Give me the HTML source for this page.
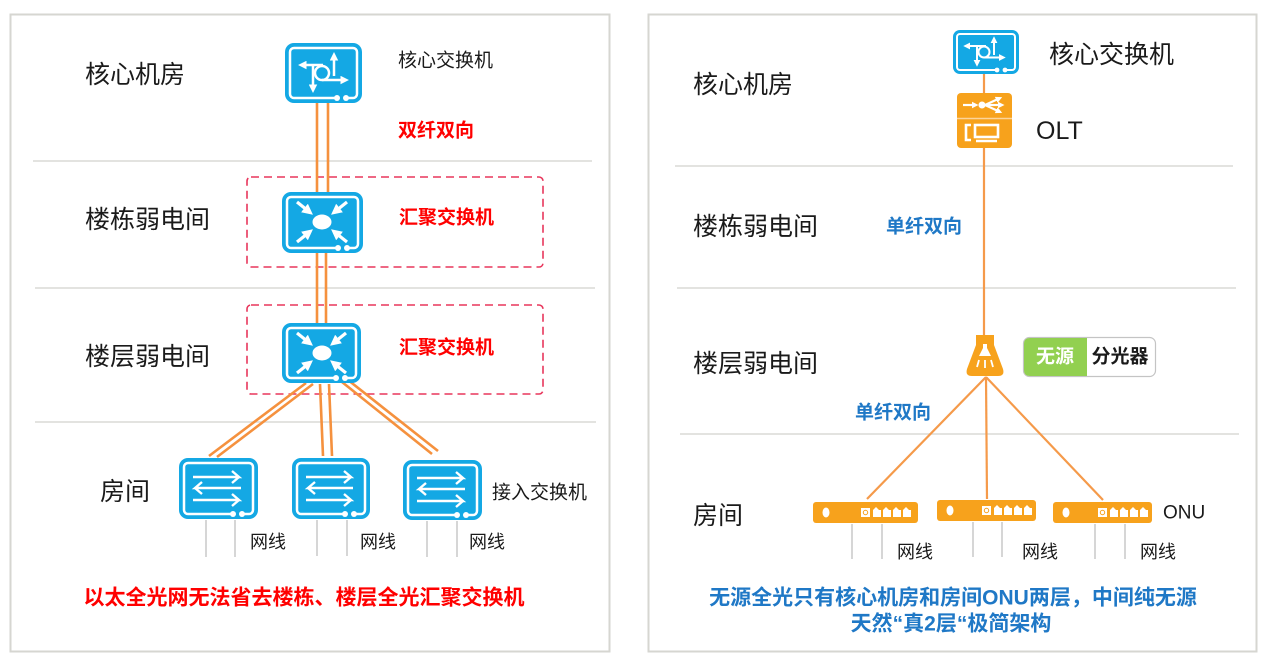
<!DOCTYPE html>
<html><head><meta charset="utf-8"><style>
html,body{margin:0;padding:0;background:#fff;width:1264px;height:659px;overflow:hidden}
svg{display:block}
text{font-family:"Liberation Sans","Noto Sans CJK SC",sans-serif;dominant-baseline:central}
.lbl{font-size:25px;fill:#1a1a1a}
.sm{font-size:19px;fill:#1a1a1a}
.red{font-size:19px;fill:#ff0000;font-weight:bold}
.blue{font-size:19px;fill:#1f78c6;font-weight:bold}
</style></head><body>
<svg width="1264" height="659" viewBox="0 0 1264 659" xmlns="http://www.w3.org/2000/svg">
<defs>
<marker id="wa" viewBox="0 0 10 10" refX="3" refY="5" markerWidth="3.4" markerHeight="3.4" orient="auto"><path d="M0,0 L10,5 L0,10 z" fill="#fff"/></marker>
<marker id="wb" viewBox="0 0 10 10" refX="3" refY="5" markerWidth="3" markerHeight="3" orient="auto"><path d="M0,0 L10,5 L0,10 z" fill="#fff"/></marker>
</defs>

<!-- panels -->
<rect x="10.5" y="14.5" width="599" height="637" fill="none" stroke="#d6d6d1" stroke-width="2"/>
<rect x="648.5" y="14.5" width="608" height="637" fill="none" stroke="#d6d6d1" stroke-width="2"/>

<!-- dividers -->
<g stroke="#dadad5" stroke-width="1.5">
<line x1="33" y1="161" x2="592" y2="161"/>
<line x1="35" y1="288" x2="595" y2="288"/>
<line x1="35" y1="422" x2="596" y2="422"/>
<line x1="675" y1="166" x2="1233" y2="166"/>
<line x1="677" y1="288" x2="1236" y2="288"/>
<line x1="680" y1="434" x2="1239" y2="434"/>
</g>

<!-- left labels -->
<text class="lbl" x="85" y="75">核心机房</text>
<text class="lbl" x="85" y="220">楼栋弱电间</text>
<text class="lbl" x="85" y="357">楼层弱电间</text>
<text class="lbl" x="100" y="492">房间</text>

<!-- dashed boxes -->
<rect x="247" y="177" width="296" height="90" rx="4" fill="none" stroke="#e8365c" stroke-width="1.6" stroke-dasharray="8,5"/>
<rect x="247" y="305" width="296" height="89" rx="4" fill="none" stroke="#e8365c" stroke-width="1.6" stroke-dasharray="8,5"/>

<!-- orange fibers left -->
<g stroke="#f5913e" stroke-width="2.6" fill="none">
<line x1="317" y1="103" x2="317" y2="192"/>
<line x1="328" y1="103" x2="328" y2="192"/>
<line x1="317" y1="253" x2="317" y2="323"/>
<line x1="326" y1="253" x2="326" y2="323"/>
<line x1="306" y1="383" x2="209" y2="456"/>
<line x1="313" y1="384" x2="217" y2="457"/>
<line x1="320" y1="384" x2="323" y2="456"/>
<line x1="329" y1="384" x2="332" y2="456"/>
<line x1="342" y1="382" x2="432" y2="454"/>
<line x1="348" y1="380" x2="438" y2="451"/>
</g>

<!-- core switch left -->
<g transform="translate(285,43)">
<rect width="77" height="60" rx="9" fill="#14a8e4"/>
<rect x="5" y="5" width="67" height="50" rx="4" fill="none" stroke="#fff" stroke-width="2.5"/>
<rect x="53" y="52" width="7" height="6" fill="#14a8e4"/>
<circle cx="52" cy="55" r="3" fill="#fff"/><circle cx="61" cy="55" r="3" fill="#fff"/>
<g stroke="#fff" stroke-width="2.5" fill="none">
<line x1="38" y1="22" x2="19" y2="22" marker-end="url(#wa)"/>
<line x1="28" y1="22" x2="28" y2="44" marker-end="url(#wa)"/>
<circle cx="37" cy="30" r="7"/>
<line x1="37" y1="37" x2="58" y2="37" marker-end="url(#wa)"/>
<line x1="49" y1="33" x2="49" y2="15" marker-end="url(#wa)"/>
</g>
</g>
<text class="sm" x="398" y="61">核心交换机</text>
<text class="red" x="398" y="131">双纤双向</text>

<!-- agg switches -->
<g transform="translate(282,192)">
<rect width="81" height="61" rx="9" fill="#14a8e4"/>
<rect x="5" y="5" width="71" height="51" rx="4" fill="none" stroke="#fff" stroke-width="2.5"/>
<rect x="57" y="53" width="7" height="6" fill="#14a8e4"/>
<circle cx="56" cy="56" r="3" fill="#fff"/><circle cx="65" cy="56" r="3" fill="#fff"/>
<ellipse cx="40" cy="30" rx="9.5" ry="7.5" fill="#fff"/>
<g stroke="#fff" stroke-width="3.2">
<line x1="15" y1="10" x2="25" y2="18" marker-end="url(#wa)"/>
<line x1="65" y1="10" x2="55" y2="18" marker-end="url(#wa)"/>
<line x1="15" y1="50" x2="25" y2="42" marker-end="url(#wa)"/>
<line x1="65" y1="50" x2="55" y2="42" marker-end="url(#wa)"/>
</g>
</g>
<text class="red" x="399" y="218">汇聚交换机</text>

<g transform="translate(282,323)">
<rect width="79" height="60" rx="9" fill="#14a8e4"/>
<rect x="5" y="5" width="69" height="50" rx="4" fill="none" stroke="#fff" stroke-width="2.5"/>
<rect x="55" y="52" width="7" height="6" fill="#14a8e4"/>
<circle cx="54" cy="55" r="3" fill="#fff"/><circle cx="63" cy="55" r="3" fill="#fff"/>
<ellipse cx="40" cy="30" rx="9.5" ry="7.5" fill="#fff"/>
<g stroke="#fff" stroke-width="3.2">
<line x1="15" y1="10" x2="25" y2="18" marker-end="url(#wa)"/>
<line x1="64" y1="10" x2="54" y2="18" marker-end="url(#wa)"/>
<line x1="15" y1="50" x2="25" y2="42" marker-end="url(#wa)"/>
<line x1="64" y1="50" x2="54" y2="42" marker-end="url(#wa)"/>
</g>
</g>
<text class="red" x="399" y="348">汇聚交换机</text>

<!-- access switches -->
<g transform="translate(179,458)">
<rect width="79" height="61" rx="9" fill="#14a8e4"/>
<rect x="5" y="5" width="69" height="51" rx="4" fill="none" stroke="#fff" stroke-width="2.5"/>
<rect x="55" y="53" width="7" height="6" fill="#14a8e4"/>
<circle cx="54" cy="56" r="3" fill="#fff"/><circle cx="63" cy="56" r="3" fill="#fff"/>
<g stroke="#fff" stroke-width="2.4" fill="none">
<polyline points="14,19 60,19 53,13"/>
<polyline points="62,30 16,30 23,24"/>
<line x1="16" y1="30" x2="23" y2="36"/>
<polyline points="14,42 60,42 53,36"/>
<line x1="60" y1="42" x2="53" y2="48"/>
<line x1="60" y1="19" x2="53" y2="25"/>
</g>
</g>
<g transform="translate(292,458)">
<rect width="78" height="61" rx="9" fill="#14a8e4"/>
<rect x="5" y="5" width="68" height="51" rx="4" fill="none" stroke="#fff" stroke-width="2.5"/>
<rect x="54" y="53" width="7" height="6" fill="#14a8e4"/>
<circle cx="53" cy="56" r="3" fill="#fff"/><circle cx="62" cy="56" r="3" fill="#fff"/>
<g stroke="#fff" stroke-width="2.4" fill="none">
<polyline points="14,19 59,19 52,13"/>
<line x1="59" y1="19" x2="52" y2="25"/>
<polyline points="61,30 16,30 23,24"/>
<line x1="16" y1="30" x2="23" y2="36"/>
<polyline points="14,42 59,42 52,36"/>
<line x1="59" y1="42" x2="52" y2="48"/>
</g>
</g>
<g transform="translate(403,460)">
<rect width="79" height="60" rx="9" fill="#14a8e4"/>
<rect x="5" y="5" width="69" height="50" rx="4" fill="none" stroke="#fff" stroke-width="2.5"/>
<rect x="55" y="52" width="7" height="6" fill="#14a8e4"/>
<circle cx="54" cy="55" r="3" fill="#fff"/><circle cx="63" cy="55" r="3" fill="#fff"/>
<g stroke="#fff" stroke-width="2.4" fill="none">
<polyline points="14,18 60,18 53,12"/>
<line x1="60" y1="18" x2="53" y2="24"/>
<polyline points="62,29 16,29 23,23"/>
<line x1="16" y1="29" x2="23" y2="35"/>
<polyline points="14,41 60,41 53,35"/>
<line x1="60" y1="41" x2="53" y2="47"/>
</g>
</g>
<text class="sm" x="492" y="493">接入交换机</text>

<!-- cables left -->
<g stroke="#c8c8c8" stroke-width="1.5">
<line x1="206" y1="520" x2="206" y2="557"/><line x1="235" y1="520" x2="235" y2="557"/>
<line x1="317" y1="520" x2="317" y2="556"/><line x1="347" y1="520" x2="347" y2="556"/>
<line x1="427" y1="521" x2="427" y2="557"/><line x1="457" y1="521" x2="457" y2="557"/>
</g>
<text class="sm" x="250" y="542" style="font-size:18px">网线</text>
<text class="sm" x="360" y="542" style="font-size:18px">网线</text>
<text class="sm" x="469" y="542" style="font-size:18px">网线</text>

<text x="304" y="598" text-anchor="middle" style="font-size:21px;font-weight:bold;fill:#ff0000">以太全光网无法省去楼栋、楼层全光汇聚交换机</text>

<!-- RIGHT PANEL -->
<text class="lbl" x="693" y="85">核心机房</text>
<text class="lbl" x="693" y="227">楼栋弱电间</text>
<text class="lbl" x="693" y="364">楼层弱电间</text>
<text class="lbl" x="693" y="516">房间</text>

<g stroke="#f59a4a" stroke-width="2.2" fill="none">
<line x1="984" y1="74" x2="984" y2="93"/>
<line x1="984" y1="148" x2="984" y2="336"/>
<line x1="986" y1="377" x2="867" y2="499"/>
<line x1="986" y1="377" x2="987" y2="499"/>
<line x1="986" y1="377" x2="1103" y2="500"/>
</g>

<!-- core switch right -->
<g transform="translate(953,30)">
<rect width="66" height="44" rx="7" fill="#14a8e4"/>
<rect x="4" y="4" width="58" height="36" rx="3" fill="none" stroke="#fff" stroke-width="2"/>
<rect x="45" y="37" width="5" height="5" fill="#14a8e4"/>
<circle cx="44" cy="40" r="2.4" fill="#fff"/><circle cx="52" cy="40" r="2.4" fill="#fff"/>
<g stroke="#fff" stroke-width="2" fill="none">
<line x1="33" y1="16" x2="15" y2="16" marker-end="url(#wa)"/>
<line x1="24" y1="16" x2="24" y2="32" marker-end="url(#wa)"/>
<circle cx="31" cy="22" r="5.5"/>
<line x1="31" y1="27.5" x2="48" y2="27.5" marker-end="url(#wa)"/>
<line x1="41" y1="25" x2="41" y2="11" marker-end="url(#wa)"/>
</g>
</g>
<text x="1049" y="55" style="font-size:25px;fill:#1a1a1a">核心交换机</text>

<!-- OLT -->
<g transform="translate(957,93)">
<rect width="55" height="55" rx="4" fill="#f7a21c"/>
<line x1="0" y1="25.5" x2="55" y2="25.5" stroke="#fcd49a" stroke-width="1.5"/>
<g stroke="#fff" stroke-width="2.2" fill="none">
<line x1="6" y1="12" x2="17" y2="12" marker-end="url(#wb)"/>
<line x1="28" y1="12" x2="41" y2="6" marker-end="url(#wb)"/>
<line x1="28" y1="12" x2="43" y2="12" marker-end="url(#wb)"/>
<line x1="28" y1="12" x2="41" y2="18" marker-end="url(#wb)"/>
<path d="M14,32 L9,32 L9,47 L14,47" stroke-width="2.6"/>
<rect x="18" y="32" width="23" height="12" stroke-width="2.6"/>
<line x1="19" y1="48" x2="40" y2="48" stroke-width="2.6"/>
</g>
<circle cx="25" cy="12" r="3.5" fill="#fff"/>
</g>
<text x="1036" y="131" style="font-size:25px;fill:#1a1a1a">OLT</text>

<text class="blue" x="886" y="227">单纤双向</text>
<text class="blue" x="855" y="413">单纤双向</text>

<!-- splitter -->
<path d="M976,335 L994,335 L994,345 L1003,369 Q1005,376 998,376 L972,376 Q965,376 967,369 L976,345 Z" fill="#f7a21c"/>
<path d="M983,344 L987,344 L987,348 L991,356 L979,356 L983,348 Z" fill="#fff"/>
<g stroke="#fff" stroke-width="1.8">
<line x1="979" y1="360" x2="977" y2="367"/>
<line x1="985" y1="360" x2="985" y2="368"/>
<line x1="991" y1="360" x2="993" y2="367"/>
</g>
<rect x="1023.5" y="337.5" width="132" height="39" rx="6" fill="#fff" stroke="#c4c4c4" stroke-width="1.2"/>
<path d="M1030,338 L1087,338 L1087,376 L1030,376 Q1024,376 1024,370 L1024,344 Q1024,338 1030,338 Z" fill="#92d050"/>
<text x="1055" y="357" text-anchor="middle" style="font-size:19px;font-weight:bold;fill:#fff">无源</text>
<text x="1120" y="357" text-anchor="middle" style="font-size:19px;font-weight:bold;fill:#1a1a1a">分光器</text>

<!-- ONUs -->
<g transform="translate(813,502)">
<rect width="105" height="21" rx="3" fill="#f7a21c"/>
<ellipse cx="13" cy="10.5" rx="3.5" ry="5" fill="#fff"/>
<rect x="48" y="6" width="9" height="9" fill="#fff"/><circle cx="52.5" cy="10.5" r="2.2" fill="none" stroke="#f7a21c" stroke-width="1"/>
<path d="M60,8 L63,5 L66,8 L68,8 L68,15 L60,15 Z M70,8 L73,5 L76,8 L78,8 L78,15 L70,15 Z M80,8 L83,5 L86,8 L88,8 L88,15 L80,15 Z M90,8 L93,5 L96,8 L98,8 L98,15 L90,15 Z" fill="#fff"/>
</g>
<g transform="translate(937,500)">
<rect width="99" height="21" rx="3" fill="#f7a21c"/>
<ellipse cx="13" cy="10.5" rx="3.5" ry="5" fill="#fff"/>
<rect x="45" y="6" width="9" height="9" fill="#fff"/><circle cx="49.5" cy="10.5" r="2.2" fill="none" stroke="#f7a21c" stroke-width="1"/>
<path d="M57,8 L60,5 L63,8 L65,8 L65,15 L57,15 Z M67,8 L70,5 L73,8 L75,8 L75,15 L67,15 Z M77,8 L80,5 L83,8 L85,8 L85,15 L77,15 Z M87,8 L90,5 L93,8 L95,8 L95,15 L87,15 Z" fill="#fff"/>
</g>
<g transform="translate(1053,502)">
<rect width="99" height="21" rx="3" fill="#f7a21c"/>
<ellipse cx="13" cy="10.5" rx="3.5" ry="5" fill="#fff"/>
<rect x="45" y="6" width="9" height="9" fill="#fff"/><circle cx="49.5" cy="10.5" r="2.2" fill="none" stroke="#f7a21c" stroke-width="1"/>
<path d="M57,8 L60,5 L63,8 L65,8 L65,15 L57,15 Z M67,8 L70,5 L73,8 L75,8 L75,15 L67,15 Z M77,8 L80,5 L83,8 L85,8 L85,15 L77,15 Z M87,8 L90,5 L93,8 L95,8 L95,15 L87,15 Z" fill="#fff"/>
</g>
<text x="1163" y="513" style="font-size:19px;fill:#1a1a1a">ONU</text>

<g stroke="#c8c8c8" stroke-width="1.5">
<line x1="852" y1="524" x2="852" y2="559"/><line x1="882" y1="524" x2="882" y2="559"/>
<line x1="973" y1="522" x2="973" y2="557"/><line x1="1002" y1="522" x2="1002" y2="557"/>
<line x1="1095" y1="524" x2="1095" y2="559"/><line x1="1125" y1="524" x2="1125" y2="559"/>
</g>
<text x="897" y="552" style="font-size:18px;fill:#1a1a1a">网线</text>
<text x="1022" y="552" style="font-size:18px;fill:#1a1a1a">网线</text>
<text x="1140" y="552" style="font-size:18px;fill:#1a1a1a">网线</text>

<text x="953" y="598" text-anchor="middle" style="font-size:21px;font-weight:bold;fill:#1f78c6">无源全光只有核心机房和房间ONU两层，中间纯无源</text>
<text x="951" y="624" text-anchor="middle" style="font-size:21px;font-weight:bold;fill:#1f78c6">天然“真2层“极简架构</text>
</svg>
</body></html>
